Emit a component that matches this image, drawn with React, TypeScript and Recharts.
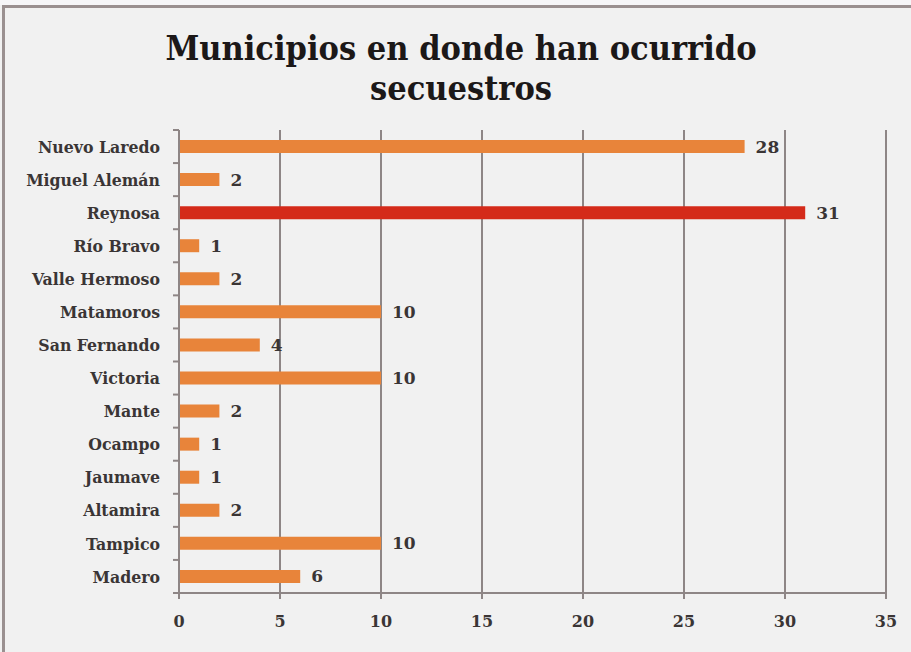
import React from "react";
import {
  Bar,
  BarChart,
  CartesianGrid,
  Cell,
  LabelList,
  XAxis,
  YAxis,
} from "recharts";

const municipios = [
  "Nuevo Laredo",
  "Miguel Alemán",
  "Reynosa",
  "Río Bravo",
  "Valle Hermoso",
  "Matamoros",
  "San Fernando",
  "Victoria",
  "Mante",
  "Ocampo",
  "Jaumave",
  "Altamira",
  "Tampico",
  "Madero",
];
const secuestros = [28, 2, 31, 1, 2, 10, 4, 10, 2, 1, 1, 2, 10, 6];
const xTicks = [0, 5, 10, 15, 20, 25, 30, 35];

const data = municipios.map((name, i) => ({ name, value: secuestros[i] }));

const FONT = "'DejaVu Serif', serif";
const GRID = "#8e8686";
const TOP = 130;
const BOTTOM = 59;
const H = 652;
const band = (H - TOP - BOTTOM) / municipios.length;

function CategoryTick(props: any) {
  const { x, y, payload, index } = props;
  const last = index === municipios.length - 1;
  return (
    <g>
      <line x1={x + 2} x2={x + 8} y1={y - band / 2} y2={y - band / 2} stroke={GRID} strokeWidth={2} />
      {last && (
        <line x1={x + 2} x2={x + 8} y1={y + band / 2} y2={y + band / 2} stroke={GRID} strokeWidth={2} />
      )}
      <text
        x={x - 11}
        y={y}
        dy="0.35em"
        textAnchor="end"
        fontFamily={FONT}
        fontWeight="bold"
        fontSize={17.5}
        style={{ fontStretch: "condensed" }}
        fill="#3a3535"
      >
        {payload.value}
      </text>
    </g>
  );
}

export default function App() {
  return (
    <div
      style={{
        position: "fixed",
        left: 0,
        top: 0,
        width: 911,
        height: 652,
        background: "#f1f1f1",
        overflow: "hidden",
      }}
    >
      <div
        style={{
          position: "absolute",
          left: 0,
          top: 0,
          width: 911,
          height: 5,
          background: "#f6f6f8",
        }}
      />
      <div
        style={{
          position: "absolute",
          left: 2,
          top: 5,
          width: 909,
          height: 647,
          borderTop: "3px solid #9a9090",
          borderLeft: "3px solid #9a9090",
          boxSizing: "border-box",
        }}
      />
      <div
        style={{
          position: "absolute",
          left: 0,
          top: 28,
          width: 922,
          textAlign: "center",
          fontFamily: FONT,
          fontWeight: "bold",
          fontStretch: "condensed",
          fontSize: 34,
          lineHeight: "40px",
          color: "#1c1818",
        }}
      >
        Municipios en donde han ocurrido
        <br />
        secuestros
      </div>
      <BarChart
        width={911}
        height={652}
        data={data}
        layout="vertical"
        margin={{ top: TOP, right: 25, left: 0, bottom: 0 }}
        style={{ position: "absolute", left: 0, top: 0 }}
      >
        <CartesianGrid horizontal={false} stroke={GRID} strokeWidth={2} />
        <XAxis
          type="number"
          domain={[0, 35]}
          ticks={xTicks}
          height={BOTTOM}
          tickSize={6}
          tickMargin={17}
          stroke={GRID}
          strokeWidth={2}
          tickLine={{ stroke: GRID, strokeWidth: 2 }}
          tick={{ fill: "#3a3535", fontFamily: FONT, fontWeight: "bold", fontSize: 16 }}
        />
        <YAxis
          type="category"
          dataKey="name"
          width={179}
          stroke={GRID}
          strokeWidth={2}
          tickLine={false}
          interval={0}
          tick={<CategoryTick />}
        />
        <Bar dataKey="value" barSize={13} isAnimationActive={false}>
          {data.map((d) => (
            <Cell key={d.name} fill={d.name === "Reynosa" ? "#d42a1a" : "#e8843a"} />
          ))}
          <LabelList
            dataKey="value"
            position="right"
            offset={11}
            fill="#3a3535"
            fontFamily={FONT}
            fontWeight="bold"
            fontSize={17}
          />
        </Bar>
      </BarChart>
    </div>
  );
}
